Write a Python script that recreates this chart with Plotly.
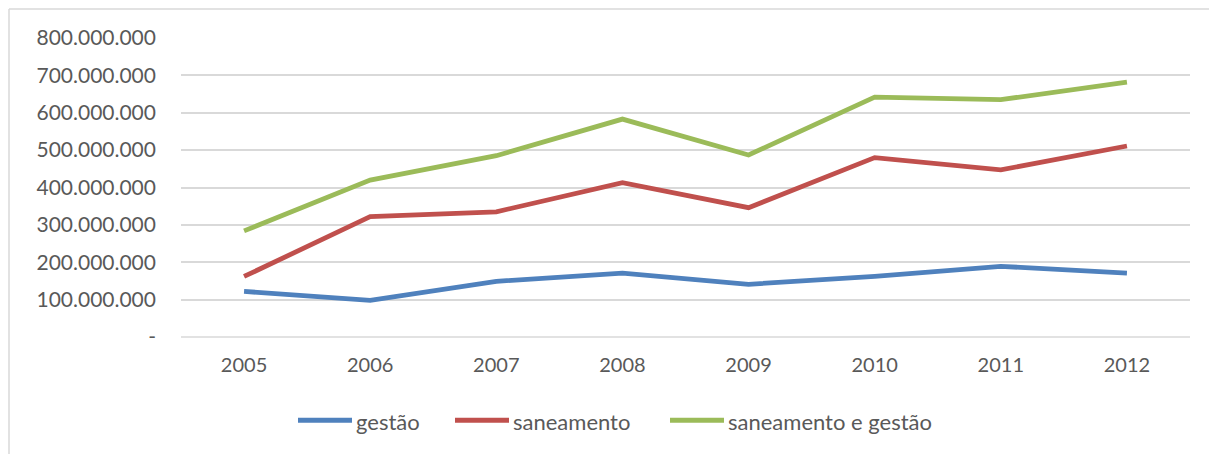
import plotly.graph_objects as go

years = ["2005", "2006", "2007", "2008", "2009", "2010", "2011", "2012"]
gestao = [122e6, 98e6, 149e6, 171e6, 141e6, 162e6, 189e6, 171e6]
saneamento = [162e6, 322e6, 335e6, 413e6, 346e6, 480e6, 447e6, 511e6]
saneamento_gestao = [284e6, 420e6, 485e6, 583e6, 487e6, 642e6, 635e6, 682e6]

tick_vals = [0, 100e6, 200e6, 300e6, 400e6, 500e6, 600e6, 700e6, 800e6]
tick_text = ["-", "100.000.000", "200.000.000", "300.000.000", "400.000.000",
             "500.000.000", "600.000.000", "700.000.000", "800.000.000"]

series = [
    ("gestão", gestao, "#4F81BD"),
    ("saneamento", saneamento, "#C0504D"),
    ("saneamento e gestão", saneamento_gestao, "#9BBB59"),
]

fig = go.Figure()
for name, vals, color in series:
    fig.add_trace(go.Scatter(x=years, y=vals, mode="lines", name=name,
                             line=dict(color=color, width=4.8), showlegend=False))

# page offset of 8px (body margin) is accounted for
OFF = 8
W, H = 1217 - OFF, 454 - OFF
PL, PT, PW, PH = 181, 37.5, 1009, 300  # plot area in page pixels
L = PL - OFF
T = PT - OFF
R = W - L - PW
B = H - T - PH


def px(x):
    return (x - PL) / PW


def py(y):
    return (PT + PH - y) / PH


border = dict(color="#D9D9D9", width=1.5)
shapes = [
    dict(type="line", xref="paper", yref="paper", x0=px(9), x1=px(9),
         y0=py(460), y1=py(8.5), line=border, layer="below"),
    dict(type="line", xref="paper", yref="paper", x0=px(9), x1=px(1230),
         y0=py(8.5), y1=py(8.5), line=border, layer="below"),
]
annotations = []
legend_x = [298, 455, 670]
legend_y = 421
for (name, vals, color), lx in zip(series, legend_x):
    shapes.append(dict(type="line", xref="paper", yref="paper",
                       x0=px(lx), x1=px(lx + 54), y0=py(legend_y), y1=py(legend_y),
                       line=dict(color=color, width=5)))
    annotations.append(dict(xref="paper", yref="paper", x=px(lx + 56), y=py(legend_y + 1),
                            xanchor="left", yanchor="middle", showarrow=False,
                            text=name, font=dict(size=22, color="#595959")))

fig.update_layout(
    width=W, height=H,
    margin=dict(l=L, r=R, t=T, b=B),
    paper_bgcolor="white", plot_bgcolor="white",
    font=dict(family="Lato, 'Open Sans', sans-serif", size=20, color="#595959"),
    showlegend=False,
    xaxis=dict(type="category", showgrid=False, zeroline=False, showline=False,
               ticks="", ticklabelstandoff=14, range=[-0.5, 7.5],
               tickfont=dict(size=20)),
    yaxis=dict(range=[0, 800e6], tickvals=tick_vals, ticktext=tick_text,
               showgrid=True, gridcolor="#D9D9D9", gridwidth=1.5,
               zeroline=False, showline=False, ticks="", ticklabelstandoff=24,
               tickfont=dict(size=21)),
    shapes=shapes,
    annotations=annotations,
)
fig.add_shape(type="line", xref="paper", yref="paper", x0=0, x1=1, y0=0, y1=0,
              line=dict(color="#D9D9D9", width=1.5), layer="below")

fig.write_html("out.html")
